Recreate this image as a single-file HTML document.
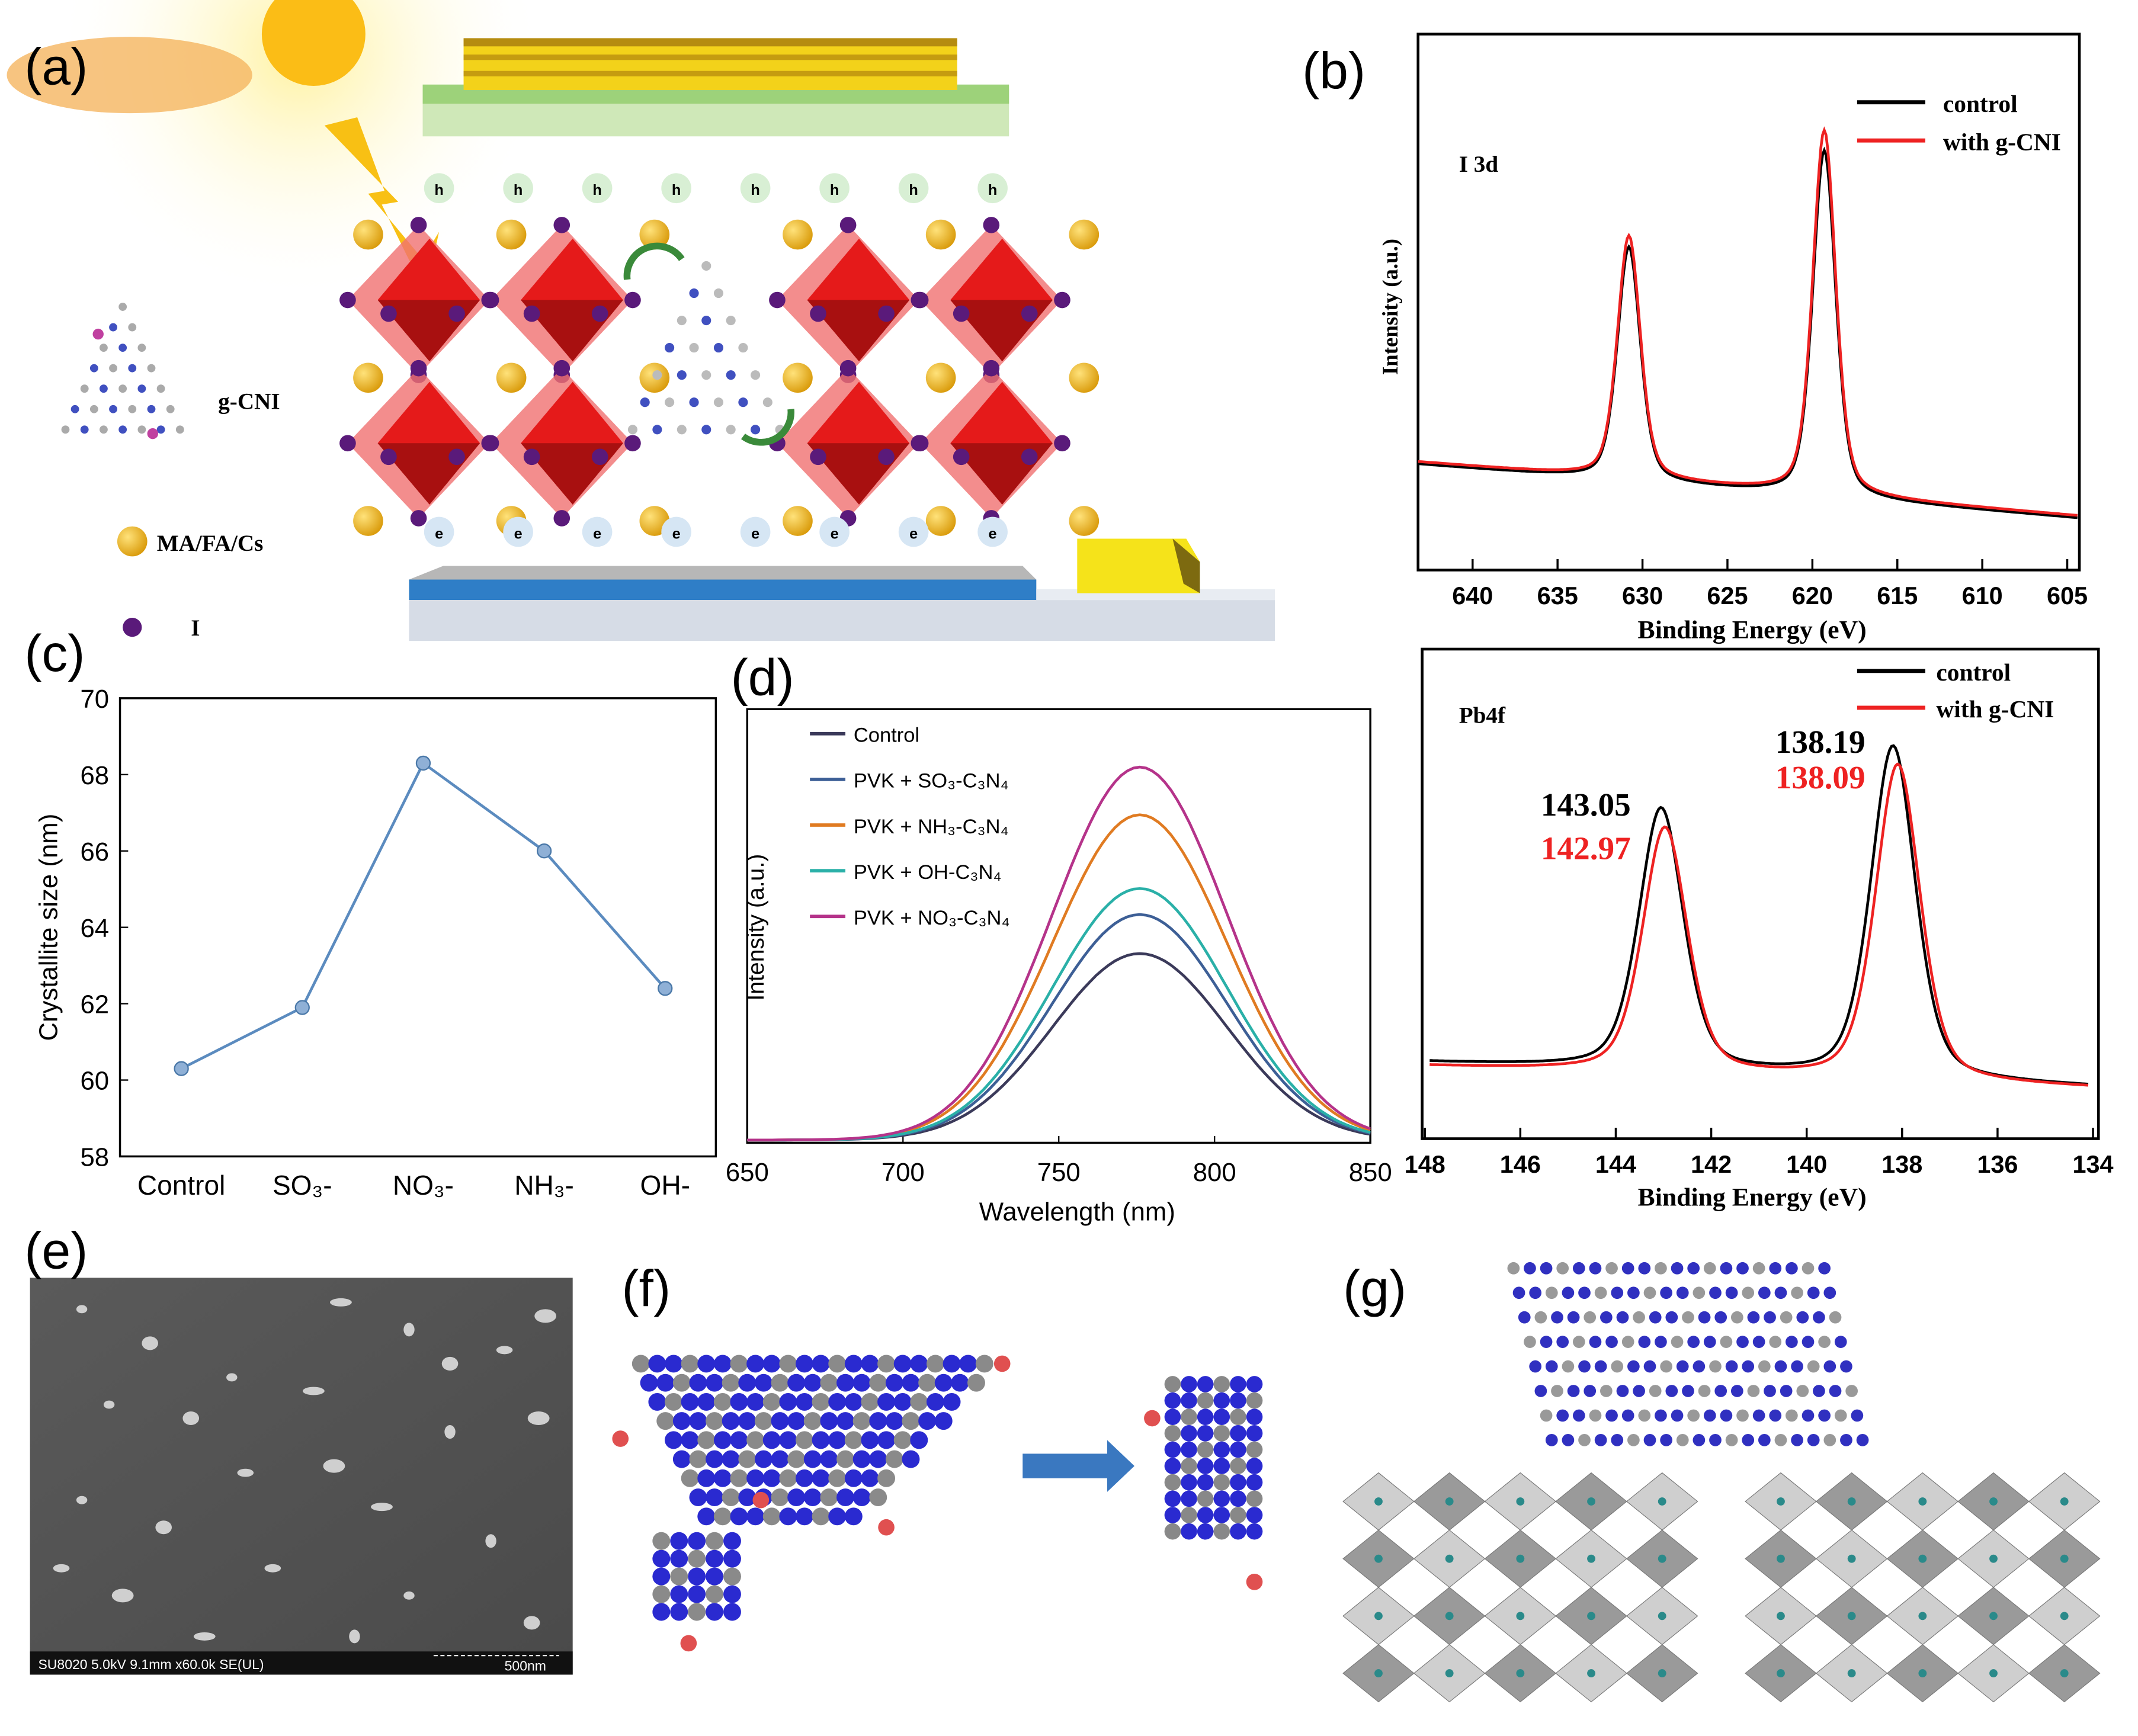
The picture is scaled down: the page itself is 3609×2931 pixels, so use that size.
<!DOCTYPE html>
<html><head><meta charset="utf-8"><style>
html,body{margin:0;padding:0;background:#fff;}
svg{display:block;}
text{font-family:"Liberation Sans",sans-serif;}
.serif{font-family:"Liberation Serif",serif;font-weight:bold;}
</style></head><body>
<svg id="fig" width="3609" height="2931" viewBox="0 0 1568 1273" preserveAspectRatio="none" xmlns="http://www.w3.org/2000/svg">
<defs>
<radialGradient id="sunglow" cx="0.5" cy="0.5" r="0.5"><stop offset="0" stop-color="#fff2a0"/><stop offset="1" stop-color="#fff" stop-opacity="0"/></radialGradient>
<radialGradient id="gold" cx="0.35" cy="0.35" r="0.7"><stop offset="0" stop-color="#ffe27a"/><stop offset="1" stop-color="#d99a0a"/></radialGradient>
<linearGradient id="sem" x1="0" y1="0" x2="1" y2="1"><stop offset="0" stop-color="#5a5a5a"/><stop offset="1" stop-color="#4a4a4a"/></linearGradient>
</defs>

<g>
<circle cx="220" cy="40" r="180" fill="url(#sunglow)"/>
<ellipse cx="95" cy="55" rx="90" ry="28" fill="#f5b560" opacity="0.8"/>
<circle cx="230" cy="25" r="38" fill="#fbbd16"/>
<polygon points="235,95 262,88 275,150 262,150 300,200 290,205 320,175 300,165 318,175 300,140 290,140 250,95" fill="#f8c014" opacity="0"/>
<polygon points="238,92 262,86 282,140 270,142 310,190 322,170 312,215 280,150 292,148" fill="#f8c014"/>
<text x="18" y="62" font-size="38">(a)</text>
<polygon points="310,65 740,65 740,100 310,100" fill="#cfe8b8"/>
<rect x="310" y="62" width="430" height="14" fill="#9dd27a"/>
<rect x="340" y="28" width="362" height="38" fill="#f3d21a"/>
<rect x="340" y="28" width="362" height="6" fill="#b58c10"/><rect x="340" y="40" width="362" height="4" fill="#c59c10"/><rect x="340" y="52" width="362" height="4" fill="#c59c10"/>
<g id="hrow"></g>
<g id="perov"></g>
<g id="erow"></g>
<polygon points="325,415 750,415 760,425 760,440 300,440 300,425" fill="#b7b7b7"/>
<rect x="300" y="425" width="460" height="15" fill="#2f7ec7"/>
<rect x="300" y="440" width="635" height="30" fill="#d6dce6"/>
<polygon points="300,440 760,440 760,432 935,432 935,440" fill="#e8ecf2"/>
<polygon points="790,395 870,395 880,412 880,435 790,435" fill="#f5e31a"/>
<polygon points="860,395 880,412 880,435 868,428" fill="#7d6a10"/>
<g id="gcni"></g>
<text x="160" y="300" class="serif" font-size="17">g-CNI</text>
<circle cx="97" cy="397" r="11" fill="url(#gold)"/>
<text x="115" y="404" class="serif" font-size="17">MA/FA/Cs</text>
<circle cx="97" cy="460" r="7" fill="#5a1a7a"/>
<text x="140" y="466" class="serif" font-size="17">I</text>
</g>

<g>
<text x="955" y="65" font-size="38">(b)</text>
<rect x="1040" y="25" width="485" height="393" fill="none" stroke="#000" stroke-width="2"/>
<g id="b1ticks"></g>
<path id="b1ctrl" fill="none" stroke="#000" stroke-width="2"/>
<path id="b1red" fill="none" stroke="#e22" stroke-width="2"/>
<text x="1070" y="126" class="serif" font-size="17">I 3d</text>
<line x1="1362" y1="75" x2="1412" y2="75" stroke="#000" stroke-width="3"/>
<text x="1425" y="82" class="serif" font-size="18">control</text>
<line x1="1362" y1="103" x2="1412" y2="103" stroke="#e22" stroke-width="3"/>
<text x="1425" y="110" class="serif" font-size="18">with g-CNI</text>
<text transform="translate(1025,225) rotate(-90)" text-anchor="middle" class="serif" font-size="16">Intensity (a.u.)</text>
<text x="1285" y="468" text-anchor="middle" class="serif" font-size="19">Binding  Energy  (eV)</text>
</g>

<g>
<rect x="1043" y="476" width="496" height="359" fill="none" stroke="#000" stroke-width="2"/>
<g id="b2ticks"></g>
<path id="b2ctrl" fill="none" stroke="#000" stroke-width="2"/>
<path id="b2red" fill="none" stroke="#e22" stroke-width="2"/>
<text x="1070" y="530" class="serif" font-size="17">Pb4f</text>
<line x1="1362" y1="492" x2="1412" y2="492" stroke="#000" stroke-width="3"/>
<text x="1420" y="499" class="serif" font-size="18">control</text>
<line x1="1362" y1="519" x2="1412" y2="519" stroke="#e22" stroke-width="3"/>
<text x="1420" y="526" class="serif" font-size="18">with g-CNI</text>
<text x="1130" y="598" class="serif" font-size="24">143.05</text>
<text x="1130" y="630" class="serif" font-size="24" fill="#e22">142.97</text>
<text x="1302" y="552" class="serif" font-size="24">138.19</text>
<text x="1302" y="578" class="serif" font-size="24" fill="#e22">138.09</text>
<text x="1285" y="884" text-anchor="middle" class="serif" font-size="19">Binding  Energy  (eV)</text>
</g>

<g>
<text x="18" y="492" font-size="38">(c)</text>
<rect x="88" y="512" width="437" height="336" fill="none" stroke="#000" stroke-width="1.5"/>
<g id="cticks"></g>
<path id="cline" fill="none" stroke="#5b8bbf" stroke-width="2"/>
<g id="cpts"></g>
<text transform="translate(42,680) rotate(-90)" text-anchor="middle" font-family="Liberation Serif,serif" font-size="19">Crystallite size (nm)</text>
</g>

<g>
<text x="536" y="510" font-size="38">(d)</text>
<rect x="548" y="520" width="457" height="318" fill="none" stroke="#000" stroke-width="1.5"/>
<g id="dticks"></g>
<g id="dcurves"></g>
<g id="dlegend"></g>
<text transform="translate(560,680) rotate(-90)" text-anchor="middle" font-size="17">Intensity (a.u.)</text>
<text x="790" y="895" text-anchor="middle" font-size="19">Wavelength (nm)</text>
</g>

<g>
<rect x="22" y="937" width="398" height="291" fill="url(#sem)"/>
<text x="18" y="930" font-size="38">(e)</text>
<g id="speck"></g>
<rect x="22" y="1211" width="398" height="17" fill="#111"/>
<text x="28" y="1224" font-size="10" fill="#fff">SU8020 5.0kV 9.1mm x60.0k SE(UL)</text>
<line x1="318" y1="1214" x2="410" y2="1214" stroke="#fff" stroke-width="1" stroke-dasharray="3,2"/>
<text x="370" y="1225" font-size="10" fill="#fff">500nm</text>
</g>

<g>
<text x="456" y="958" font-size="38">(f)</text>
<g id="fmol"></g>
<polygon points="750,1066 812,1066 812,1056 832,1075 812,1094 812,1084 750,1084" fill="#3a78c0"/>
</g>

<g>
<text x="985" y="958" font-size="38">(g)</text>
<g id="goct"></g>
<g id="gmol"></g>
</g>
</svg>
<script>
// ===== Data =====
const cCategories=["Control","SO₃-","NO₃-","NH₃-","OH-"];
const cValues=[60.3,61.9,68.3,66.0,62.4];
const cTicks=[58,60,62,64,66,68,70];
const dSeries=["Control","PVK + SO₃-C₃N₄","PVK + NH₃-C₃N₄","PVK + OH-C₃N₄","PVK + NO₃-C₃N₄"];
const dPeakHeights=[0.43,0.52,0.75,0.58,0.86];
const dPeakCenter=[776,776,776,776,776];
const dTicks=[650,700,750,800,850];
const b1Ticks=[640,635,630,625,620,615,610,605];
const b1Centers=[630.8,619.3];
const b1Control=[0.52,0.77];
const b1Gcni=[0.54,0.81];
const b2Ticks=[148,146,144,142,140,138,136,134];
const b2CentersCtrl=[143.05,138.19];
const b2CentersGcni=[142.97,138.09];
const b2Control=[0.48,0.61];
const b2Gcni=[0.45,0.58];

const NS="http://www.w3.org/2000/svg";
function mk(tag,attrs,parent){const e=document.createElementNS(NS,tag);for(const k in attrs)e.setAttribute(k,attrs[k]);if(parent)parent.appendChild(e);return e;}
function $(id){return document.getElementById(id);}

// Panel c
const cx0=88,cx1=525,cy0=848,cy1=512;
function cX(i){return 133+i*88.7;}
function cY(v){return cy0-(v-58)/(70-58)*(cy0-cy1);}
cTicks.forEach(t=>{
 const l=mk('line',{x1:cx0,x2:cx0+6,y1:cY(t),y2:cY(t),stroke:'#000'},$('cticks'));
 
 
 const tx=mk('text',{x:cx0-8,y:cY(t)+7,'text-anchor':'end','font-size':19,'font-family':'Liberation Serif,serif'},$('cticks'));tx.textContent=t;
 
 
});
cCategories.forEach((c,i)=>{
 const tx=mk('text',{x:cX(i),y:876,'text-anchor':'middle','font-size':20},$('cticks'));tx.textContent=c;
 
 
});
$('cline').setAttribute('d',cValues.map((v,i)=>(i?'L':'M')+cX(i)+','+cY(v)).join(''));
cValues.forEach((v,i)=>{
 const p=mk('circle',{cx:cX(i),cy:cY(v),r:5,fill:'#8fb0d6',stroke:'#4a78a8'},$('cpts'));
 
 
});

// Panel d
const dColors=["#3b3a5a","#3d5f96","#e07b22","#2ab0a8","#b5338a"];
function dX(w){return 548+(w-650)/200*457;}
function dY(v){return 836-v*318;}
dTicks.forEach(t=>{
 const l=mk('line',{x1:dX(t),x2:dX(t),y1:838,y2:833,stroke:'#000'},$('dticks'));
 
 
 const tx=mk('text',{x:dX(t),y:866,'text-anchor':'middle','font-size':19},$('dticks'));tx.textContent=t;
 
 
});
dSeries.forEach((s,i)=>{
 let d='';
 for(let w=650;w<=850;w+=2){const v=dPeakHeights[i]*Math.exp(-Math.pow((w-dPeakCenter[i])/28,2)/2);d+=(w==650?'M':'L')+dX(w).toFixed(1)+','+dY(v).toFixed(1);}
 const p=mk('path',{d:d,fill:'none',stroke:dColors[i],'stroke-width':2},$('dcurves'));
 
 
 const y=538+i*33.5;
 const l=mk('line',{x1:594,x2:620,y1:y,y2:y,stroke:dColors[i],'stroke-width':2.5},$('dlegend'));
 
 
 const tx=mk('text',{x:626,y:y+6,'font-size':15},$('dlegend'));tx.textContent=s;
 
 
});

// Panel b
function pv(x,c,w){const z=(x-c)/w;return 0.6*Math.exp(-z*z*0.693)+0.4/(1+z*z);}
function xpsPath(x0,x1,px,py,centers,heights,w,base0,base1,step){
 let d='';let first=true;
 for(let e=x0;e>=x1;e-=step){
  const f=(x0-e)/(x0-x1);const b=base0+(base1-base0)*f;
  let v=0;centers.forEach((c,k)=>{v+=heights[k]*pv(e,c,w);});
  d+=(first?'M':'L')+px(e).toFixed(1)+','+py(b+v).toFixed(1);first=false;
 }
 return d;
}
function b1X(e){return 1080+(640-e)*12.46;}
function b1Y(v){return 418-v*330;}
b1Ticks.forEach(t=>{
 const l=mk('line',{x1:b1X(t),x2:b1X(t),y1:418,y2:410,stroke:'#000','stroke-width':1.5},$('b1ticks'));
 
 
 const tx=mk('text',{x:b1X(t),y:443,'text-anchor':'middle','font-size':18,'font-family':'Liberation Serif,serif','font-weight':'bold'},$('b1ticks'));tx.textContent=t;
 
 
});
$('b1ctrl').setAttribute('d',xpsPath(643.2,604.3,b1X,b1Y,b1Centers,b1Control,0.8,0.235,0.115,0.1));
$('b1red').setAttribute('d',xpsPath(643.2,604.3,b1X,b1Y,b1Centers,b1Gcni,0.8,0.24,0.12,0.1));
function b2X(e){return 1045+(148-e)*35.0;}
function b2Y(v){return 835-v*400;}
b2Ticks.forEach(t=>{
 const l=mk('line',{x1:b2X(t),x2:b2X(t),y1:835,y2:827,stroke:'#000','stroke-width':1.5},$('b2ticks'));
 
 
 const tx=mk('text',{x:b2X(t),y:860,'text-anchor':'middle','font-size':18,'font-family':'Liberation Serif,serif','font-weight':'bold'},$('b2ticks'));tx.textContent=t;
 
 
});
$('b2ctrl').setAttribute('d',xpsPath(147.9,134.1,b2X,b2Y,b2CentersCtrl,b2Control,0.55,0.14,0.095,0.04));
$('b2red').setAttribute('d',xpsPath(147.9,134.1,b2X,b2Y,b2CentersGcni,b2Gcni,0.55,0.133,0.093,0.04));

// Panel a decorations
for(let i=0;i<8;i++){
 const x=322+i*58;
 mk('circle',{cx:x,cy:138,r:11,fill:'#d8efd4'},$('hrow'));
 const t=mk('text',{x:x,y:143,'text-anchor':'middle','font-size':11,'font-weight':'bold'},$('hrow'));t.textContent='h';
 mk('circle',{cx:x,cy:390,r:11,fill:'#d6e6f4'},$('erow'));
 const t2=mk('text',{x:x,y:395,'text-anchor':'middle','font-size':11,'font-weight':'bold'},$('erow'));t2.textContent='e';
}
const P=$('perov');
[[255,160],[570,160]].forEach(([bx,by])=>{
 for(let r=0;r<2;r++)for(let c=0;c<2;c++){
  const cx=bx+52+c*105,cy=by+60+r*105;
  mk('polygon',{points:`${cx},${cy-55} ${cx+52},${cy} ${cx},${cy+55} ${cx-52},${cy}`,fill:'#f07070',opacity:0.8},P);
  mk('polygon',{points:`${cx+8},${cy-45} ${cx+45},${cy} ${cx+8},${cy+45} ${cx-30},${cy}`,fill:'#e51a1a'},P);
  mk('polygon',{points:`${cx-30},${cy} ${cx+45},${cy} ${cx+8},${cy+45}`,fill:'#a81010'},P);
  [[0,-55],[52,0],[0,55],[-52,0],[-22,10],[28,10]].forEach(([dx,dy])=>mk('circle',{cx:cx+dx,cy:cy+dy,r:6,fill:'#5a1a7a'},P));
 }
 for(let r=0;r<3;r++)for(let c=0;c<3;c++) mk('circle',{cx:bx+15+c*105,cy:by+12+r*105,r:11,fill:'url(#gold)'},P);
});
for(let r=0;r<7;r++)for(let k=0;k<=r;k++){mk('circle',{cx:518-r*9+k*18,cy:195+r*20,r:3.5,fill:(k+r)%2?'#4050c0':'#bbb'},P);}
mk('path',{d:'M460,205 A22,22 0 0 1 500,190',fill:'none',stroke:'#3a8a3a','stroke-width':5},P);
mk('path',{d:'M545,320 A22,22 0 0 0 580,300',fill:'none',stroke:'#3a8a3a','stroke-width':5},P);
const G=$('gcni');
for(let r=0;r<7;r++)for(let k=0;k<=r;k++){mk('circle',{cx:90-r*7+k*14,cy:225+r*15,r:3,fill:(k+r)%2?'#4050c0':'#aaa'},G);}
mk('circle',{cx:72,cy:245,r:4,fill:'#c040a0'},G);mk('circle',{cx:112,cy:318,r:4,fill:'#c040a0'},G);

// Panel e
const sp=[[60,960],[110,985],[250,955],[300,975],[370,990],[400,965],[80,1030],[140,1040],[230,1020],[330,1050],[180,1080],[245,1075],[60,1100],[120,1120],[280,1105],[360,1130],[200,1150],[90,1170],[300,1170],[390,1190],[150,1200],[260,1200],[45,1150],[395,1040],[170,1010],[330,1000]];
sp.forEach(([x,y],i)=>mk('ellipse',{cx:x,cy:y,rx:4+(i%3)*2,ry:3+(i%2)*2,fill:'#cfcfcf'},$('speck')));

// Panel f
const F=$('fmol');
for(let r=0;r<9;r++)for(let c=0;c<22-r*1.5;c++){
 const x=470+c*12+r*6,y=1000+r*14;
 if(x>745)continue;
 mk('circle',{cx:x,cy:y,r:6.5,fill:(c+r)%3==0?'#8a8a8a':'#2a2ad0'},F);
}
for(let r=0;r<5;r++)for(let c=0;c<5;c++)mk('circle',{cx:485+c*13,cy:1130+r*13,r:6.5,fill:(c+r)%3==0?'#8a8a8a':'#2a2ad0'},F);
for(let r=0;r<10;r++)for(let c=0;c<6;c++)mk('circle',{cx:860+c*12,cy:1015+r*12,r:6,fill:(c+r)%3==0?'#888':'#2a2ad0'},F);
[[455,1055],[505,1205],[558,1100],[735,1000],[650,1120],[920,1160],[845,1040]].forEach(([x,y])=>mk('circle',{cx:x,cy:y,r:6,fill:'#e05050'},F));

// Panel g
const GO=$('goct');
[[985,1080],[1280,1080]].forEach(([bx,by])=>{
 for(let r=0;r<4;r++)for(let c=0;c<5;c++){
  const x=bx+c*52,y=by+r*42;
  mk('polygon',{points:`${x+26},${y} ${x+52},${y+21} ${x+26},${y+42} ${x},${y+21}`,fill:(r+c)%2?'#9a9a9a':'#cfcfcf',stroke:'#777','stroke-width':0.5},GO);
  mk('circle',{cx:x+26,cy:y+21,r:3,fill:'#2a8a8a'},GO);
 }
});
const GM=$('gmol');
for(let r=0;r<8;r++)for(let c=0;c<20;c++){
 const x=1110+c*12+r*4,y=930+r*18;
 mk('circle',{cx:x,cy:y,r:4.5,fill:(c+r)%3==0?'#999':'#3030c0'},GM);
}
</script>
</body></html>
